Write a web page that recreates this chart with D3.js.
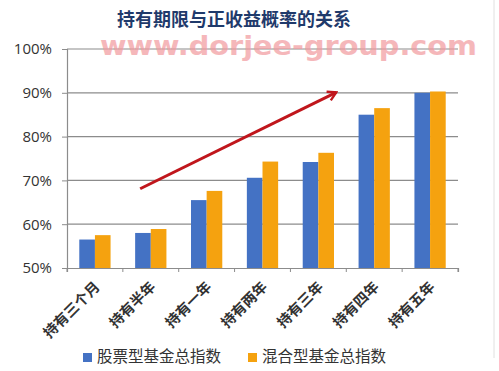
<!DOCTYPE html>
<html><head><meta charset="utf-8">
<script src="https://cdn.jsdelivr.net/npm/d3@7"></script>
<style>body{margin:0;background:#fff}svg{display:block}</style>
</head><body>
<script>
const categories = ["持有三个月","持有半年","持有一年","持有两年","持有三年","持有四年","持有五年"];
const seriesNames = ["股票型基金总指数","混合型基金总指数"];
const stockValues = [56.5, 58.0, 65.5, 70.6, 74.2, 85.0, 90.0];
const mixedValues = [57.5, 58.9, 67.6, 74.3, 76.3, 86.5, 90.3];
const yTicks = [50, 60, 70, 80, 90, 100];
const colors = ["#4472C4", "#F5A20F"];
const arrowFrom = ["持有半年", 68.1];
const arrowTo = ["持有三年", 90.1];

const W = 499, H = 371;
const m = {left: 67, right: 41, top: 49, bottom: 103};
const svg = d3.select("body").append("svg").attr("width", W).attr("height", H);
const font = "'Noto Sans CJK SC','Noto Sans',sans-serif";

const x = d3.scaleBand().domain(categories).range([m.left, W - m.right]).paddingInner(0.44).paddingOuter(0.22);
const x0 = d3.scaleBand().domain(categories).range([m.left, W - m.right]);
const xs = d3.scaleBand().domain([0,1]).range([0, x.bandwidth()]);
const y = d3.scaleLinear().domain([50, 100]).range([H - m.bottom, m.top]);

// gridlines
svg.append("g").selectAll("line").data(yTicks.slice(1)).join("line")
  .attr("x1", m.left).attr("x2", W - m.right)
  .attr("y1", d => y(d)).attr("y2", d => y(d))
  .attr("stroke", "#8c8c8c").attr("stroke-width", 1.2);

// watermark
svg.append("text").attr("x", 100).attr("y", 55)
  .attr("font-family", "'DejaVu Sans',sans-serif").attr("font-size", 27).attr("font-weight", "bold")
  .attr("textLength", 377).attr("lengthAdjust", "spacingAndGlyphs")
  .attr("fill", "#f29a9e").attr("opacity", 0.7).text("www.dorjee-group.com");

// bars
const data = categories.map((c, i) => ({c, v: [stockValues[i], mixedValues[i]]}));
const g = svg.append("g");
data.forEach(d => {
  d.v.forEach((v, k) => {
    g.append("rect").attr("x", x(d.c) + xs(k)).attr("width", xs.bandwidth())
      .attr("y", y(v)).attr("height", y(50) - y(v)).attr("fill", colors[k]);
  });
});

// y axis
const ya = svg.append("g").attr("transform", `translate(${m.left},0)`)
  .call(d3.axisLeft(y).tickValues(yTicks).tickSize(5).tickPadding(10).tickFormat(d => d + "%"));
ya.select(".domain").attr("stroke", "#8c8c8c").attr("stroke-width", 1.2);
ya.selectAll(".tick line").attr("stroke", "#8c8c8c");
ya.selectAll("text").attr("font-family", "'Open Sans','DejaVu Sans',sans-serif").attr("font-size", 15).attr("fill", "#333");

// x axis
const xa = svg.append("g").attr("transform", `translate(0,${y(50)})`)
  .call(d3.axisBottom(x0).tickSize(4).tickFormat(""));
xa.select(".domain").attr("stroke", "#8c8c8c").attr("stroke-width", 1.2);
xa.selectAll(".tick line").attr("stroke", "#8c8c8c")
  .attr("transform", `translate(${-x0.bandwidth()/2},0)`);
svg.append("line").attr("x1", W - m.right).attr("x2", W - m.right)
  .attr("y1", y(50)).attr("y2", y(50) + 4).attr("stroke", "#8c8c8c");
svg.append("g").selectAll("text").data(categories).join("text")
  .attr("transform", d => `translate(${x0(d) + x0.bandwidth()/2 + 3},${y(50) + 17}) rotate(-45)`)
  .attr("text-anchor", "end").attr("dominant-baseline", "middle")
  .attr("font-family", font).attr("font-size", 14.5).attr("font-weight", "bold").attr("fill", "#333")
  .text(d => d);

// arrow
svg.append("defs").append("marker").attr("id", "ah").attr("viewBox", "0 0 10 10")
  .attr("refX", 8).attr("refY", 5).attr("markerWidth", 4).attr("markerHeight", 4).attr("orient", "auto")
  .append("path").attr("d", "M1,1 L8,5 L1,9").attr("fill", "none").attr("stroke", "#c0161c").attr("stroke-width", 2);
svg.append("line")
  .attr("x1", x0(arrowFrom[0]) + x0.bandwidth()*0.31).attr("y1", y(arrowFrom[1]))
  .attr("x2", x0(arrowTo[0]) + x0.bandwidth()*0.82).attr("y2", y(arrowTo[1]))
  .attr("stroke", "#c0161c").attr("stroke-width", 3).attr("marker-end", "url(#ah)");

// title
svg.append("text").attr("x", 234).attr("y", 26).attr("text-anchor", "middle")
  .attr("font-family", font).attr("font-size", 18).attr("font-weight", "bold").attr("fill", "#1f3a6b")
  .text("持有期限与正收益概率的关系");

// legend
const legX = [83, 248];
seriesNames.forEach((n, k) => {
  svg.append("rect").attr("x", legX[k]).attr("y", 353).attr("width", 9).attr("height", 9).attr("fill", colors[k]);
  svg.append("text").attr("x", legX[k] + 14).attr("y", 358).attr("dominant-baseline", "middle")
    .attr("font-family", font).attr("font-size", 15.5).attr("fill", "#333").text(n);
});

// right frame line
svg.append("line").attr("x1", 494).attr("x2", 494).attr("y1", 0).attr("y2", 358).attr("stroke", "#e0e0e0");
</script>
</body></html>
